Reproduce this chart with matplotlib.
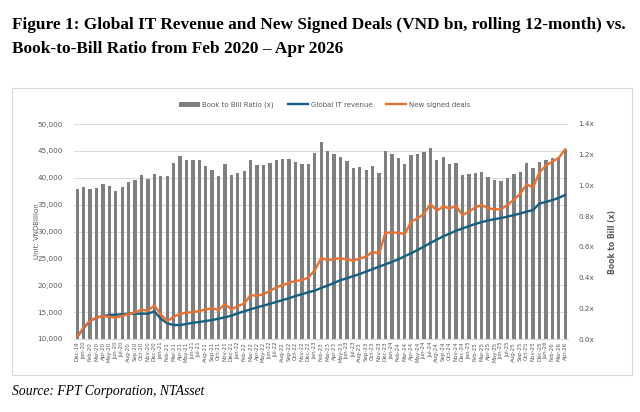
"""
Global IT revenue vs new signed deals (rolling 12m) with book-to-bill bars.
"""

import matplotlib
matplotlib.use("Agg")
import matplotlib.pyplot as plt
from matplotlib.patches import Rectangle, Patch
from matplotlib.lines import Line2D
from matplotlib.ticker import FuncFormatter
import numpy as np
import pandas as pd

# months Dec-19 .. Apr-26
months = pd.date_range("2019-12-01", "2026-04-01", freq="MS")
month_labels = [m.strftime("%b-%y") for m in months]

# book-to-bill ratio (x), right axis
book_to_bill = [
    0.98, 0.99, 0.98, 0.985, 1.01, 0.995, 0.962, 0.99, 1.025, 1.036,
    1.068, 1.04, 1.073, 1.062, 1.062, 1.147, 1.194, 1.164, 1.164, 1.164,
    1.129, 1.099, 1.064, 1.138, 1.068, 1.081, 1.092, 1.168, 1.134, 1.134,
    1.144, 1.168, 1.17, 1.17, 1.151, 1.138, 1.14, 1.212, 1.285, 1.225,
    1.205, 1.188, 1.16, 1.112, 1.12, 1.103, 1.129, 1.081, 1.222, 1.203,
    1.181, 1.138, 1.199, 1.207, 1.22, 1.242, 1.166, 1.186, 1.138, 1.147,
    1.068, 1.073, 1.081, 1.086, 1.055, 1.038, 1.029, 1.051, 1.077, 1.086,
    1.144, 1.116, 1.153, 1.168, 1.181, 1.188, 1.238,
]

# VND bn, rolling 12-month, left axis
it_revenue = [
    10430, 12000, 13400, 13970, 14280, 14470, 14530, 14590, 14710, 14710,
    14710, 14710, 15150, 13780, 12920, 12600, 12600, 12790, 13030, 13160,
    13350, 13530, 13780, 14030, 14340, 14780, 15150, 15520, 15900, 16200,
    16550, 16900, 17250, 17600, 18000, 18350, 18700, 19000, 19500, 19950,
    20450, 20950, 21300, 21700, 22100, 22550, 23000, 23450, 23900, 24350,
    24820, 25400, 25950, 26550, 27200, 27850, 28500, 29100, 29600, 30150,
    30550, 31000, 31400, 31750, 32050, 32300, 32500, 32750, 33050, 33350,
    33700, 34000, 35200, 35500, 35850, 36250, 36800,
]

new_deals = [
    10430, 12170, 13400, 13970, 14280, 14150, 13970, 14280, 14650, 14960,
    15450, 15250, 16250, 14600, 13300, 14150, 14650, 14900, 15000, 15200,
    15500, 15700, 15400, 16500, 15500, 16100, 16600, 18150, 18050, 18350,
    18950, 19600, 20050, 20450, 20800, 20950, 21450, 22800, 25100, 24650,
    24900, 25000, 24820, 24550, 25000, 25300, 26250, 25850, 29780, 29800,
    29780, 29470, 31830, 32450, 33260, 35120, 33870, 34620, 34310, 34740,
    33070, 33690, 34500, 34930, 34310, 34130, 34130, 34930, 35900, 37000,
    38800, 38200, 41000, 42300, 43000, 43700, 45300,
]

left_ticks = [10000, 15000, 20000, 25000, 30000, 35000, 40000, 45000, 50000]
right_ticks = [0.0, 0.2, 0.4, 0.6, 0.8, 1.0, 1.2, 1.4]

GREY_TXT = "#595959"
BAR_C = "#7f7f7f"
BLUE = "#156082"
ORANGE = "#e97132"

W, H = 640, 412
fig = plt.figure(figsize=(W / 100, H / 100), dpi=100)

# chart frame
fig.patches.append(Rectangle((12 / W, 1 - 375 / H), 620 / W, 287 / H,
                             transform=fig.transFigure, fill=False,
                             edgecolor="#d9d9d9", lw=0.8))

ax = fig.add_axes([74.1 / W, 1 - 339 / H, 494.3 / W, 215 / H])
ax2 = ax.twinx()

x = np.arange(len(months))
lmin, lmax = left_ticks[0], left_ticks[-1]
rmax = right_ticks[-1]
for v in left_ticks:
    ax2.axhline((v - lmin) / (lmax - lmin) * rmax, color="#d9d9d9", lw=0.7, zorder=0)
ax2.bar(x, book_to_bill, width=0.52, color=BAR_C, zorder=2)
ax2.set_ylim(0, rmax)
ax2.set_yticks(right_ticks)
ax2.yaxis.set_major_formatter(FuncFormatter(lambda v, p: f"{v:.1f}x"))

ax.plot(x, it_revenue, color=BLUE, lw=1.7, solid_capstyle="round")
ax.plot(x, new_deals, color=ORANGE, lw=1.7, solid_capstyle="round")
ax.set_ylim(lmin, lmax)
ax.set_yticks(left_ticks)
ax.yaxis.set_major_formatter(FuncFormatter(lambda v, p: f"{v:,.0f}"))
ax.set_xlim(-0.5, len(months) - 0.5)
ax.set_xticks(x)
ax.set_xticklabels(month_labels, rotation=90, fontsize=4, color=GREY_TXT)
ax.set_zorder(ax2.get_zorder() + 1)
ax.patch.set_visible(False)

for a in (ax, ax2):
    for s in a.spines.values():
        s.set_visible(False)
    a.tick_params(length=0, labelsize=5.2, labelcolor=GREY_TXT)
ax.tick_params(axis="y", pad=8)
ax2.tick_params(axis="y", pad=7)
ax.tick_params(axis="x", pad=2, labelsize=4)
ax2.spines["bottom"].set_visible(True)
ax2.spines["bottom"].set_color("#d9d9d9")

fig.text(37 / W, 1 - 231 / H, "Unit: VNDBillion", rotation=90, fontsize=5,
         color=GREY_TXT, ha="center", va="center")
fig.text(612 / W, 1 - 242 / H, "Book to Bill (x)", rotation=90, fontsize=5.5,
         color=GREY_TXT, fontweight="bold", ha="center", va="center")

handles = [
    Patch(facecolor=BAR_C, edgecolor="none", label="Book to Bill Ratio (x)"),
    Line2D([], [], color=BLUE, lw=1.7, label="Global IT revenue"),
    Line2D([], [], color=ORANGE, lw=1.7, label="New signed deals"),
]
fig.legend(handles=handles, loc="center", bbox_to_anchor=(325 / W, 1 - 105 / H),
           ncol=3, frameon=False, fontsize=5, labelcolor=GREY_TXT,
           handlelength=2.9, handleheight=0.6, handletextpad=0.4, columnspacing=2.0)

serif = ["Liberation Serif", "DejaVu Serif"]
fig.text(12 / W, 1 - 25 / H,
         "Figure 1: Global IT Revenue and New Signed Deals (VND bn, rolling 12-month) vs.",
         family=serif, fontweight="bold", fontsize=12.4, ha="left", va="center")
fig.text(12 / W, 1 - 49 / H, "Book-to-Bill Ratio from Feb 2020 \u2013 Apr 2026",
         family=serif, fontweight="bold", fontsize=12.4, ha="left", va="center")
fig.text(12 / W, 1 - 391 / H, "Source: FPT Corporation, NTAsset",
         family=serif, style="italic", fontsize=9.8, ha="left", va="center")

fig.savefig("out.png", dpi=100)
plt.close(fig)
